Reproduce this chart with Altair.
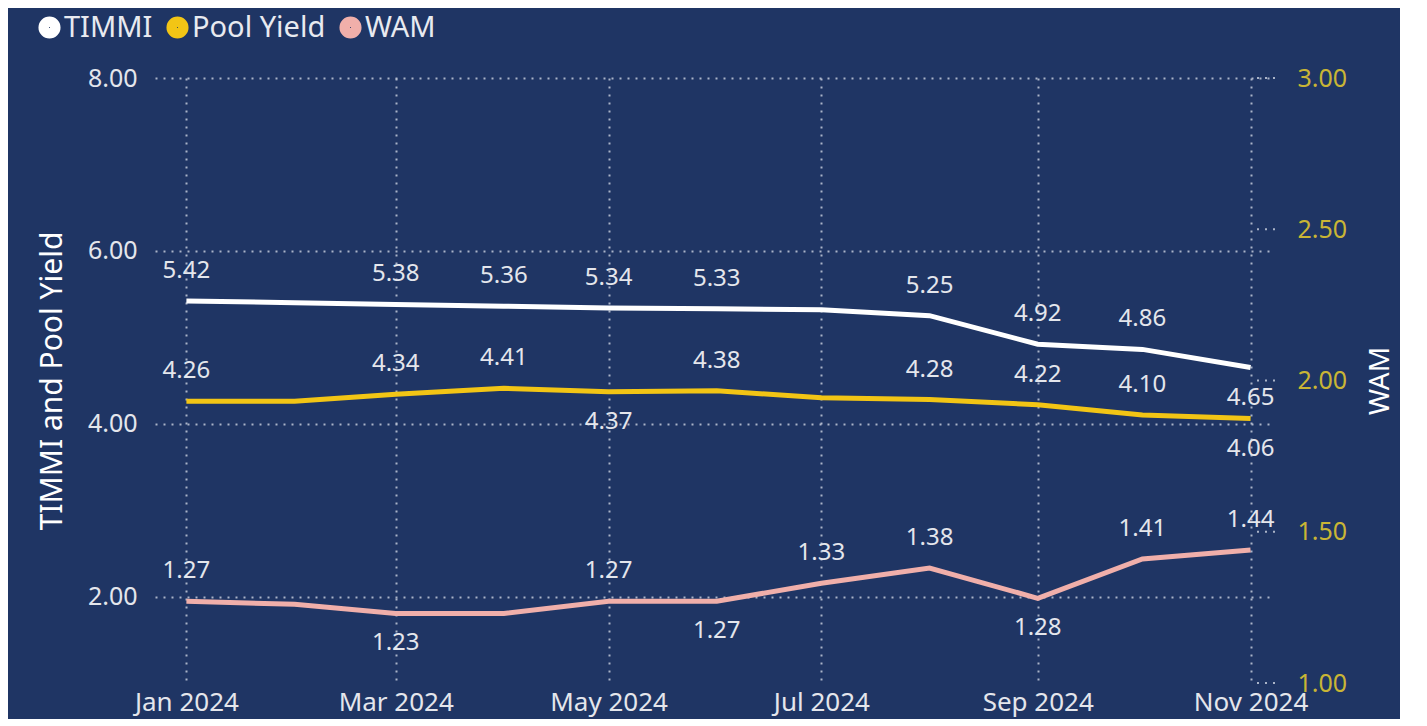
import altair as alt
import pandas as pd

months = ["2024-01-01", "2024-02-01", "2024-03-01", "2024-04-01", "2024-05-01", "2024-06-01",
          "2024-07-01", "2024-08-01", "2024-09-01", "2024-10-01", "2024-11-01"]
timmi = [5.42, 5.40, 5.38, 5.36, 5.34, 5.33, 5.32, 5.25, 4.92, 4.86, 4.65]
pool_yield = [4.26, 4.26, 4.34, 4.41, 4.37, 4.38, 4.30, 4.28, 4.22, 4.10, 4.06]
wam = [1.27, 1.26, 1.23, 1.23, 1.27, 1.27, 1.33, 1.38, 1.28, 1.41, 1.44]
# label placement: a = above, b = below, "" = no label
timmi_pos = ["a", "", "a", "a", "a", "a", "", "a", "a", "a", "b"]
pool_pos = ["a", "", "a", "a", "b", "a", "", "a", "a", "a", "b"]
wam_pos = ["a", "", "b", "", "a", "b", "a", "a", "b", "a", "a"]

series_names = ["TIMMI", "Pool Yield", "WAM"]
series_colors = ["#FFFFFF", "#F2C515", "#F0AFAA"]
left_ticks = [2, 4, 6, 8]
right_ticks = [1.0, 1.5, 2.0, 2.5, 3.0]
x_ticks = ["2024-01-01", "2024-03-01", "2024-05-01", "2024-07-01", "2024-09-01", "2024-11-01"]

rows = []
for name, vals, pos in [("TIMMI", timmi, timmi_pos), ("Pool Yield", pool_yield, pool_pos)]:
    for m, v, p in zip(months, vals, pos):
        rows.append({"month": m, "series": name, "value": v, "pos": p, "label": f"{v:.2f}"})
left_df = pd.DataFrame(rows)
right_df = pd.DataFrame({"month": months, "series": "WAM", "value": wam, "pos": wam_pos,
                         "label": [f"{v:.2f}" for v in wam]})
rtick_df = pd.DataFrame({"value": right_ticks})

FONT = "Segoe UI, Noto Sans, sans-serif"
GRID = "#C3CAD9"
W, H = 1120, 605


def dt(s):
    y, m, d = [int(t) for t in s.split("-")]
    return alt.DateTime(year=y, month=m, date=d, utc=True)


x_enc = alt.X(
    "month:T",
    scale=alt.Scale(type="utc", domain=[dt("2023-12-23"), dt("2024-11-08")]),
    axis=alt.Axis(values=[dt(s) for s in x_ticks], format="%b %Y", title=None,
                  labelFontSize=26, labelColor="#E4E6EC", labelFont=FONT, labelPadding=6,
                  domain=False, ticks=False, grid=True, gridColor=GRID, gridDash=[2, 6],
                  gridWidth=2, gridOpacity=0.85, labelFlush=False),
)

y_left = alt.Y(
    "value:Q",
    scale=alt.Scale(domain=[1, 8], nice=False, zero=False),
    axis=alt.Axis(values=left_ticks, format=".2f", title="TIMMI and Pool Yield",
                  titleFontSize=30, titleColor="#FFFFFF", titleFont=FONT, titleFontWeight="normal",
                  titlePadding=20, labelFontSize=25, labelColor="#E4E6EC", labelFont=FONT,
                  labelPadding=18, domain=False, ticks=False, grid=True, gridColor=GRID,
                  gridDash=[2, 6], gridWidth=2, gridOpacity=0.85),
)

y_right = alt.Y(
    "value:Q",
    scale=alt.Scale(domain=[1, 3], nice=False, zero=False),
    axis=alt.Axis(orient="right", values=right_ticks, format=".2f", title="WAM",
                  titleAngle=270, titleFontSize=28, titleColor="#FFFFFF", titleFont=FONT,
                  titleFontWeight="normal", titlePadding=48, labelFontSize=25,
                  labelColor="#C9B535", labelFont=FONT, labelPadding=22, domain=False,
                  ticks=False, grid=False),
)

color_enc = alt.Color(
    "series:N",
    scale=alt.Scale(domain=series_names, range=series_colors),
    legend=alt.Legend(orient="none", legendX=-120, legendY=-65, direction="horizontal",
                      title=None, symbolType="circle", symbolSize=110, symbolStrokeWidth=11.6,
                      labelFontSize=29, labelColor="#E8EAF0", labelFont=FONT, labelOffset=0,
                      columnPadding=-4),
)

base_l = alt.Chart(left_df)
left_lines = base_l.mark_line(strokeWidth=5).encode(x=x_enc, y=y_left, color=color_enc,
                                                     detail="series:N")
left_above = base_l.transform_filter(alt.datum.pos == "a").mark_text(
    dy=-30, fontSize=24, font=FONT, color="#E4E6EC").encode(x=x_enc, y=y_left, text="label:N")
left_below = base_l.transform_filter(alt.datum.pos == "b").mark_text(
    dy=30, fontSize=24, font=FONT, color="#E4E6EC").encode(x=x_enc, y=y_left, text="label:N")
left = alt.layer(left_lines, left_above, left_below)

base_r = alt.Chart(right_df)
right_line = base_r.mark_line(strokeWidth=5).encode(x=x_enc, y=y_right, color=color_enc)
right_above = base_r.transform_filter(alt.datum.pos == "a").mark_text(
    dy=-30, fontSize=24, font=FONT, color="#E4E6EC").encode(x=x_enc, y=y_right, text="label:N")
right_below = base_r.transform_filter(alt.datum.pos == "b").mark_text(
    dy=30, fontSize=24, font=FONT, color="#E4E6EC").encode(x=x_enc, y=y_right, text="label:N")
right_ticks_marks = alt.Chart(rtick_df).mark_rule(
    color=GRID, strokeDash=[2, 6], strokeWidth=2, opacity=0.85).encode(
    y=y_right, x=alt.value(W - 18), x2=alt.value(W))
right = alt.layer(right_line, right_above, right_below, right_ticks_marks)

chart = alt.layer(left, right).resolve_scale(y="independent").properties(
    width=W, height=H,
    background="#1F3564",
    padding={"left": 147, "top": 70, "right": 125, "bottom": 36},
    autosize=alt.AutoSizeParams(type="none"),
).configure_view(stroke=None)

chart.save("out.html", embed_options={"renderer": "svg", "actions": False})
